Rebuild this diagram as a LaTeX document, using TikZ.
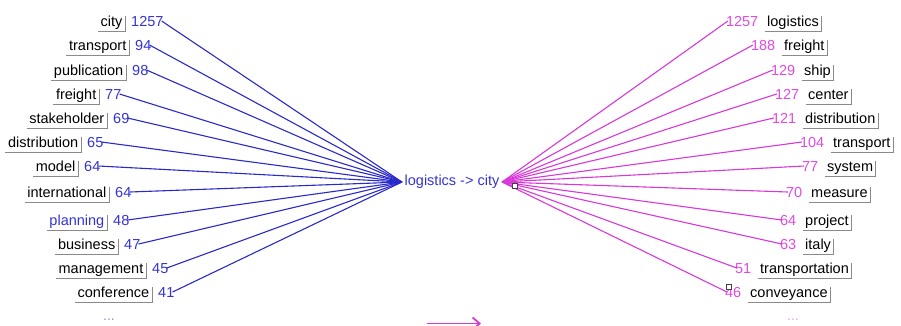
\documentclass[tikz,border=0pt]{standalone}
\usepackage{fontspec}
\setmainfont{Liberation Sans}
\usetikzlibrary{arrows.meta,positioning}
\definecolor{LinkBlue}{HTML}{2A2AC8}
\definecolor{NumBlue}{HTML}{3434D2}
\definecolor{LinkMag}{HTML}{D838D8}
\definecolor{NumMag}{HTML}{E04AE0}
\definecolor{BoxGray}{HTML}{8A8A8A}
\tikzset{
  palabra/.style = {font=\fontsize{14.5}{16}\selectfont, inner xsep=2.5pt,
                    inner ysep=2pt, text height=10.5pt, text depth=3.5pt},
  cifra/.style   = {font=\fontsize{14.5}{16}\selectfont, inner sep=1pt},
  marco/.style   = {draw=BoxGray, line width=0.8pt},
  enlaceA/.style = {draw=LinkBlue, line width=1.1pt},
  enlaceB/.style = {draw=LinkMag, line width=1.1pt},
  asa/.style     = {draw=black!75, fill=white, line width=0.7pt,
                    minimum size=5pt, inner sep=0pt},
  puntos/.style  = {font=\fontsize{14}{16}\selectfont, inner sep=0pt},
  flechaB/.style = {draw=LinkMag, line width=1.8pt, -{Straight Barb[length=7pt,width=12pt]}},
}
\begin{document}
\begin{tikzpicture}[x=1pt,y=-1pt]
  \useasboundingbox (0,0) rectangle (901,325);
  \clip (0,0) rectangle (901,325);
  % par central
  \node[palabra, text=NumBlue] (par) at (452,182) {logistics -> city};
  % lado izquierdo: palabra / cifra / borde derecho de la caja / fila
  \foreach \w/\n/\x/\y/\c [count=\i] in {
      city/1257/125/20/black, transport/94/129/44/black,
      publication/98/126/69/black, freight/77/99/93/black,
      stakeholder/69/107/117/black, distribution/65/81/141/black,
      model/64/78/165/black, international/64/109/191/black,
      planning/48/107/219/NumBlue, business/47/118/243/black,
      management/45/146/267/black, conference/41/152/291/black}{
    \node[palabra, text=\c, anchor=base east] (lw\i) at (\x,\y+6) {\w};
    \node[cifra, text=NumBlue, base right=5pt of lw\i] (ln\i) {\n};
    \draw[marco] (lw\i.south west) -| ([yshift=-3pt]lw\i.north east);
    \draw[enlaceA] ([xshift=-3pt]ln\i.east) -- (par.west);
  }
  % lado derecho: palabra / cifra / borde izquierdo del texto / fila
  \foreach \w/\n/\x/\y [count=\i] in {
      logistics/1257/767/20, freight/188/784/44, ship/129/804/69,
      center/127/808/93, distribution/121/805/117, transport/104/833/141,
      system/77/827/165, measure/70/811/191, project/64/805/219,
      italy/63/805/243, transportation/51/760/267, conveyance/46/750/291}{
    \node[palabra, anchor=base west] (rw\i) at (\x-2.5,\y+6) {\w};
    \node[cifra, text=NumMag, base left=5pt of rw\i] (rn\i) {\n};
    \draw[marco] (rw\i.south west) -| ([yshift=-3pt]rw\i.north east);
    \draw[enlaceB] (par.east) -- ([xshift=3pt]rn\i.west);
  }
  % marcas de seleccion
  \node[asa] (asa1) at (515,186) {};
  \node[asa] (asa2) at (729,287) {};
  % continua...
  \node[puntos, text=NumBlue!55] (masA) at (109,320) {...};
  \node[puntos, text=NumMag!55] (masB) at (793,320) {...};
  \coordinate (flA) at (427,323.5);
  \coordinate (flB) at (481,323.5);
  \draw[flechaB] (flA) -- (flB);
\end{tikzpicture}
\end{document}
